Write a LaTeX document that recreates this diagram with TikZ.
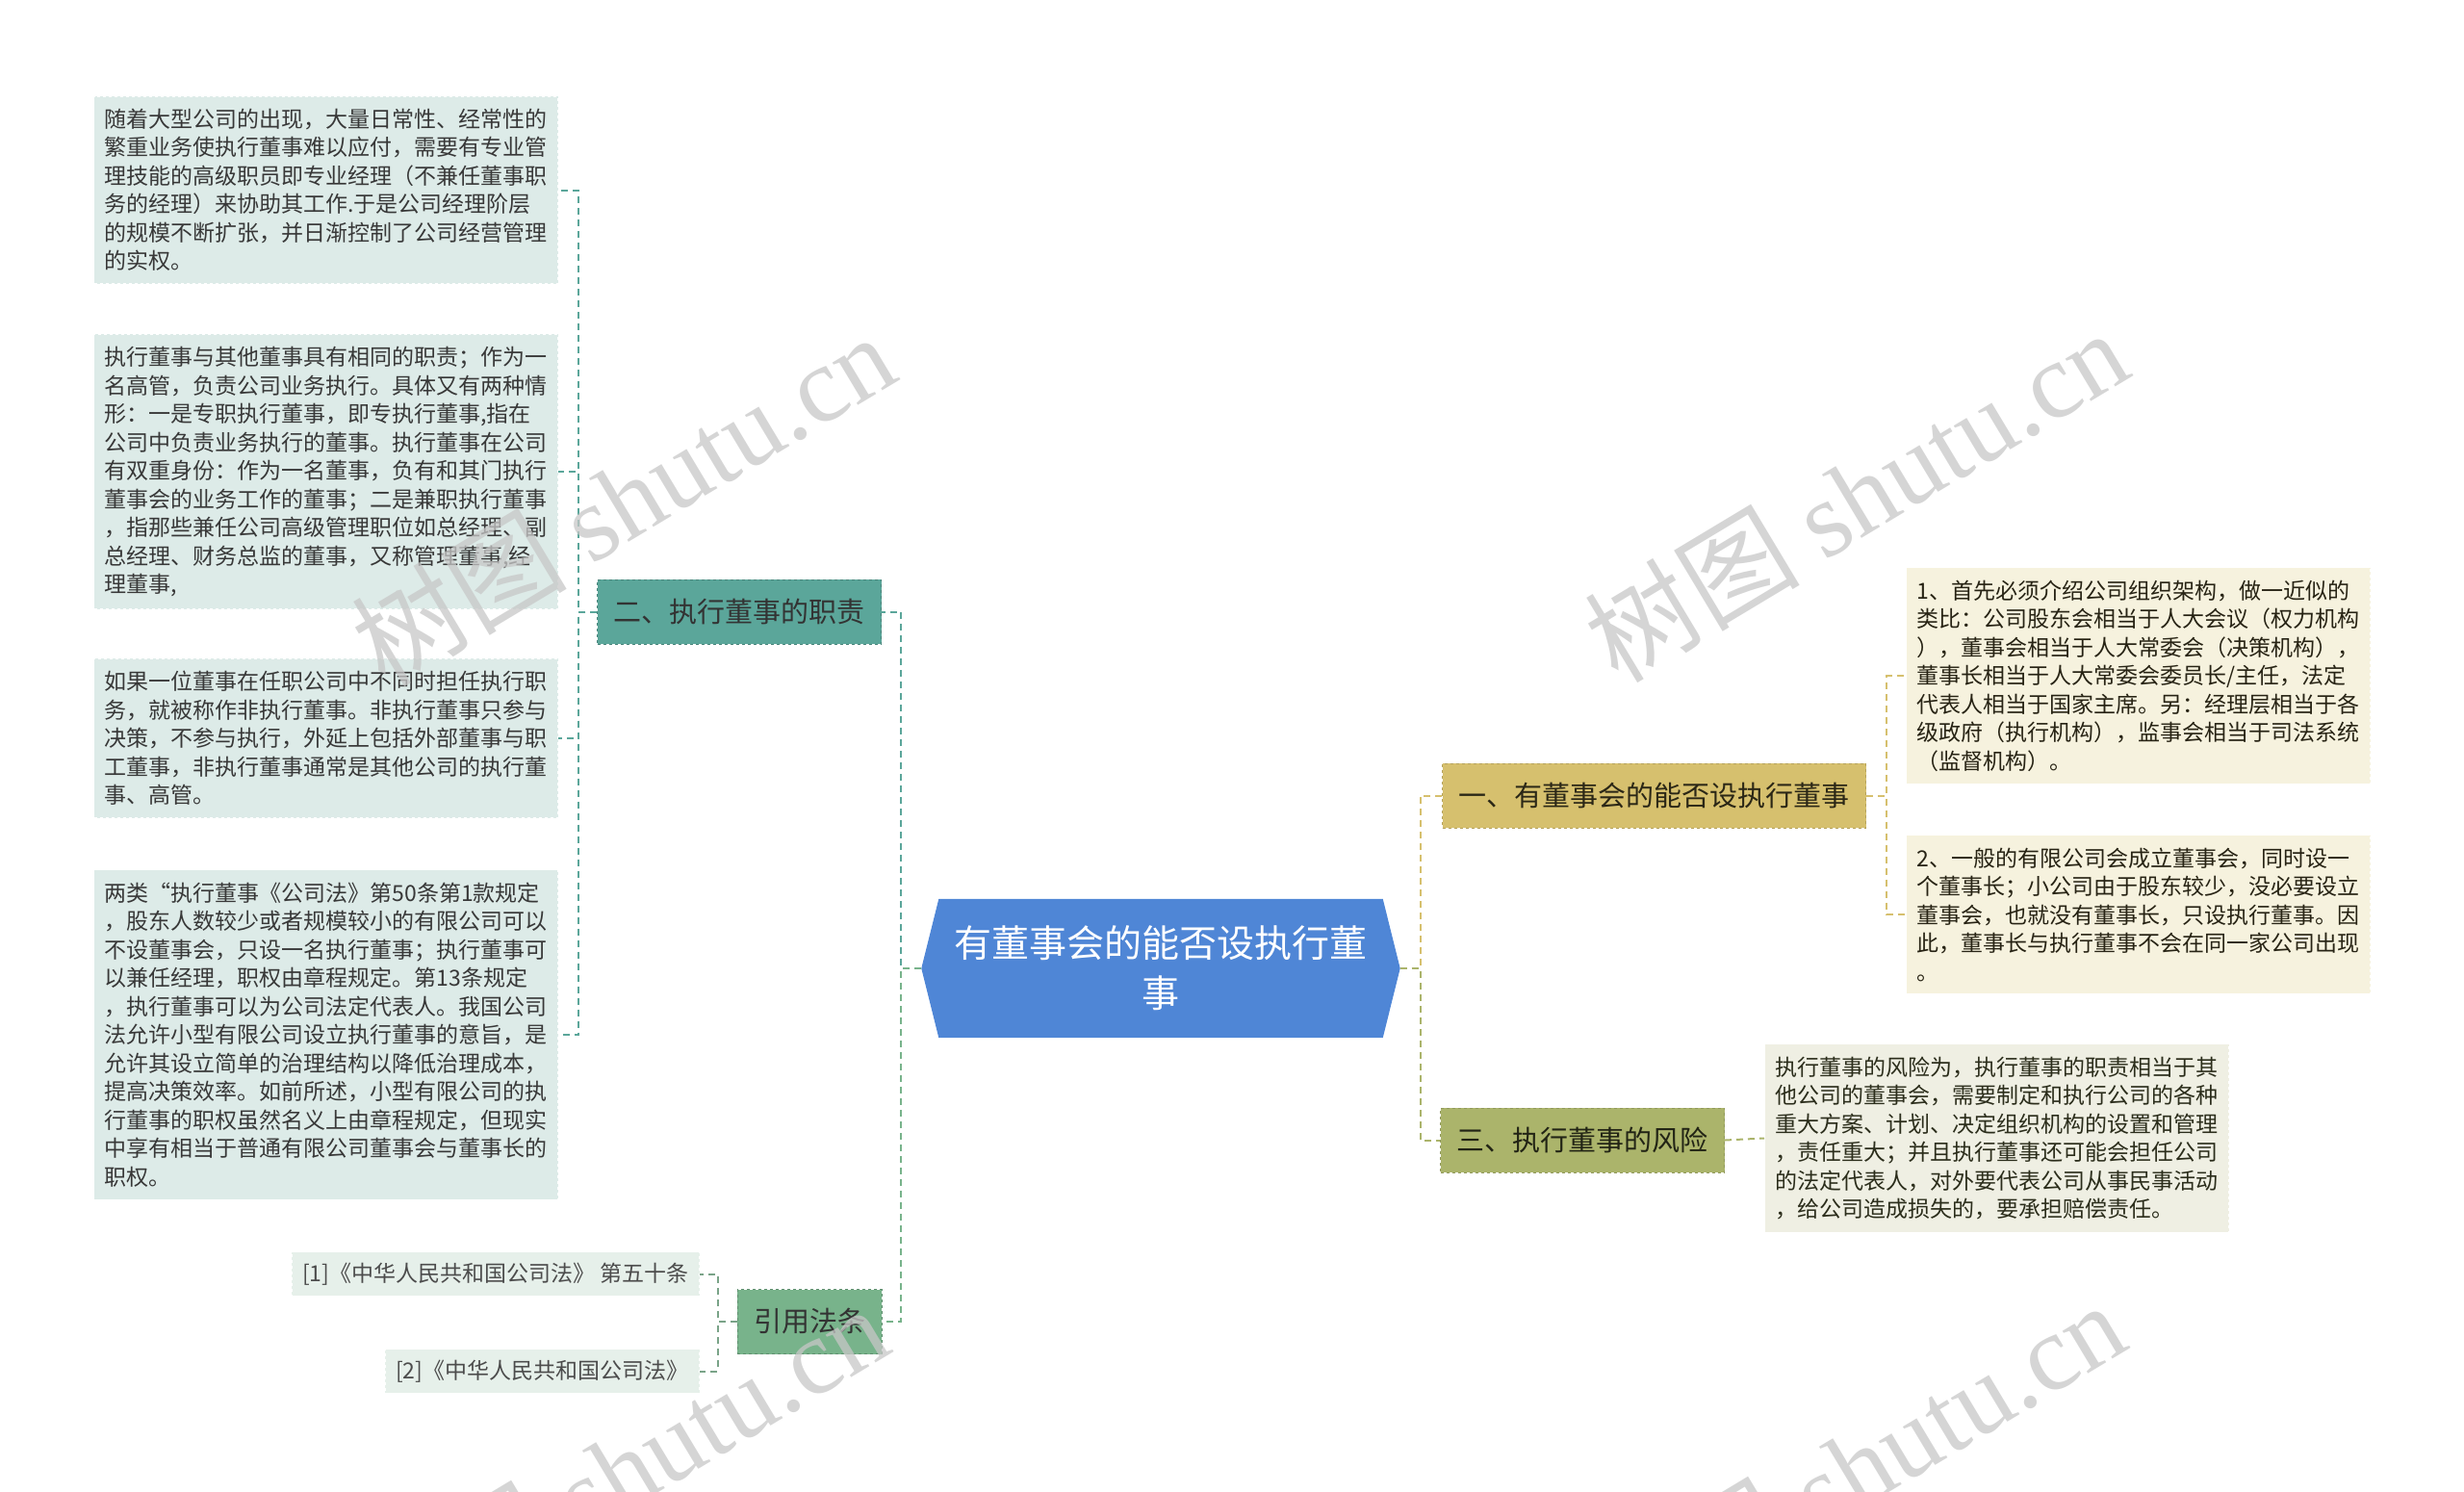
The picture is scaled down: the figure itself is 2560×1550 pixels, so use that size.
\documentclass[tikz,border=0pt]{standalone}
\usepackage{fontspec}
\setmainfont{Noto Sans CJK SC}
\newfontfamily\wmfont{Liberation Serif}
\usetikzlibrary{positioning,calc,backgrounds}

\definecolor{rootblue}{HTML}{4F86D6}
\definecolor{dutyc}{HTML}{5BA69A}
\definecolor{lawc}{HTML}{78B38B}
\definecolor{cansetc}{HTML}{D6C06E}
\definecolor{riskc}{HTML}{ABB46B}
\definecolor{dutyleaf}{HTML}{DDEBE8}
\definecolor{lawleaf}{HTML}{E6F0EA}
\definecolor{cansetleaf}{HTML}{F6F2DE}
\definecolor{riskleaf}{HTML}{EFEFE3}

\begin{document}
\begin{tikzpicture}[x=1pt,y=1pt]
    \tikzstyle{leaf}=[rectangle, draw=white, dashed, line width=1pt,
    text width=460pt, align=left, inner xsep=11pt, inner ysep=13pt,
    font=\fontsize{23}{29.5}\selectfont]
    \tikzstyle{ref}=[leaf, text width=, inner ysep=11pt, text=black!70]
    \tikzstyle{branch}=[rectangle, dashed, line width=1pt, minimum height=67pt,
    inner xsep=17pt, font=\fontsize{29}{35}\selectfont]
    \tikzstyle{conn}=[dash pattern=on 7pt off 5pt, line width=2pt]
    \tikzstyle{wmark}=[text=black!22, opacity=0.75, font=\fontsize{112}{112}\selectfont]

    \useasboundingbox (0,0) rectangle (2560,-1550);

    \node[text=white, align=center, minimum width=497pt, minimum height=144pt,
    font=\fontsize{39}{52}\selectfont] (root) at (1206,-1006)
    {有董事会的能否设执行董\\事};
    \begin{scope}[on background layer]
        \fill[rootblue] ($(root.north west)+(18,0)$) -- ($(root.north east)+(-18,0)$)
        -- (root.east) -- ($(root.south east)+(-18,0)$)
        -- ($(root.south west)+(18,0)$) -- (root.west) -- cycle;
    \end{scope}

    \node[branch, fill=dutyc, draw=dutyc!80!black, text=black!80] (duty) at (768,-635.5)
    {二、执行董事的职责};
    \node[branch, fill=lawc, draw=lawc!80!black, text=black!80] (law) at (841,-1373)
    {引用法条};
    \node[branch, fill=cansetc, draw=cansetc!85!black, text=black!80!cansetc] (canset) at (1718.5,-826.5)
    {一、有董事会的能否设执行董事};
    \node[branch, fill=riskc, draw=riskc!85!black, text=black!80!riskc] (risk) at (1644,-1184.5)
    {三、执行董事的风险};

    \node[leaf, fill=dutyleaf, text=black!78, anchor=east] (d1) at (580,-197.5)
    {随着大型公司的出现，大量日常性、经常性的\\
    繁重业务使执行董事难以应付，需要有专业管\\
    理技能的高级职员即专业经理（不兼任董事职\\
    务的经理）来协助其工作.于是公司经理阶层\\
    的规模不断扩张，并日渐控制了公司经营管理\\
    的实权。};
    \node[leaf, fill=dutyleaf, text=black!78, anchor=east] (d2) at (580,-490)
    {执行董事与其他董事具有相同的职责；作为一\\
    名高管，负责公司业务执行。具体又有两种情\\
    形：一是专职执行董事，即专执行董事,指在\\
    公司中负责业务执行的董事。执行董事在公司\\
    有双重身份：作为一名董事，负有和其门执行\\
    董事会的业务工作的董事；二是兼职执行董事\\
    ，指那些兼任公司高级管理职位如总经理、副\\
    总经理、财务总监的董事，又称管理董事,经\\
    理董事,};
    \node[leaf, fill=dutyleaf, text=black!78, anchor=east] (d3) at (580,-767)
    {如果一位董事在任职公司中不同时担任执行职\\
    务，就被称作非执行董事。非执行董事只参与\\
    决策，不参与执行，外延上包括外部董事与职\\
    工董事，非执行董事通常是其他公司的执行董\\
    事、高管。};
    \node[leaf, fill=dutyleaf, text=black!78, anchor=east] (d4) at (580,-1075)
    {两类“执行董事《公司法》第50条第1款规定\\
    ，股东人数较少或者规模较小的有限公司可以\\
    不设董事会，只设一名执行董事；执行董事可\\
    以兼任经理，职权由章程规定。第13条规定\\
    ，执行董事可以为公司法定代表人。我国公司\\
    法允许小型有限公司设立执行董事的意旨，是\\
    允许其设立简单的治理结构以降低治理成本，\\
    提高决策效率。如前所述，小型有限公司的执\\
    行董事的职权虽然名义上由章程规定，但现实\\
    中享有相当于普通有限公司董事会与董事长的\\
    职权。};

    \node[ref, fill=lawleaf, anchor=east] (law1) at (727,-1323.5)
    {[1]《中华人民共和国公司法》 第五十条};
    \node[ref, fill=lawleaf, anchor=east] (law2) at (727,-1424.5)
    {[2]《中华人民共和国公司法》};

    \node[leaf, fill=cansetleaf, text=black!70!cansetc!60!black, anchor=west] (c1) at (1980,-702)
    {1、首先必须介绍公司组织架构，做一近似的\\
    类比：公司股东会相当于人大会议（权力机构\\
    ），董事会相当于人大常委会（决策机构），\\
    董事长相当于人大常委会委员长/主任，法定\\
    代表人相当于国家主席。另：经理层相当于各\\
    级政府（执行机构），监事会相当于司法系统\\
    （监督机构）。};
    \node[leaf, fill=cansetleaf, text=black!70!cansetc!60!black, anchor=west] (c2) at (1980,-950)
    {2、一般的有限公司会成立董事会，同时设一\\
    个董事长；小公司由于股东较少，没必要设立\\
    董事会，也就没有董事长，只设执行董事。因\\
    此，董事长与执行董事不会在同一家公司出现\\
    。};
    \node[leaf, fill=riskleaf, text=black!75!riskc, anchor=west] (r1) at (1833,-1182.5)
    {执行董事的风险为，执行董事的职责相当于其\\
    他公司的董事会，需要制定和执行公司的各种\\
    重大方案、计划、决定组织机构的设置和管理\\
    ，责任重大；并且执行董事还可能会担任公司\\
    的法定代表人，对外要代表公司从事民事活动\\
    ，给公司造成损失的，要承担赔偿责任。};

    \draw[conn, dutyc] (root.west) -- ++(-21,0) |- (duty.east);
    \draw[conn, lawc] (root.west) -- ++(-21,0) |- (law.east);
    \draw[conn, cansetc] (root.east) -- ++(21,0) |- (canset.west);
    \draw[conn, riskc] (root.east) -- ++(21,0) |- (risk.west);

    \foreach \n in {d1,d2,d3,d4}
        \draw[conn, dutyc] (duty.west) -- ++(-19,0) |- (\n.east);
    \foreach \n in {law1,law2}
        \draw[conn, lawc!70!gray] (law.west) -- ++(-20,0) |- (\n.east);
    \foreach \n in {c1,c2}
        \draw[conn, cansetc] (canset.east) -- ++(21,0) |- (\n.west);
    \draw[conn, riskc] (risk.east) -- (r1.west);

    \node[wmark, rotate=31] (wm1) at (647,-518) {树图 {\wmfont shutu.cn}};
    \node[wmark, rotate=31] (wm2) at (1928,-514) {树图 {\wmfont shutu.cn}};
    \node[wmark, rotate=31] (wm3) at (640,-1528) {树图 {\wmfont shutu.cn}};
    \node[wmark, rotate=31] (wm4) at (1925,-1524) {树图 {\wmfont shutu.cn}};
\end{tikzpicture}
\end{document}
